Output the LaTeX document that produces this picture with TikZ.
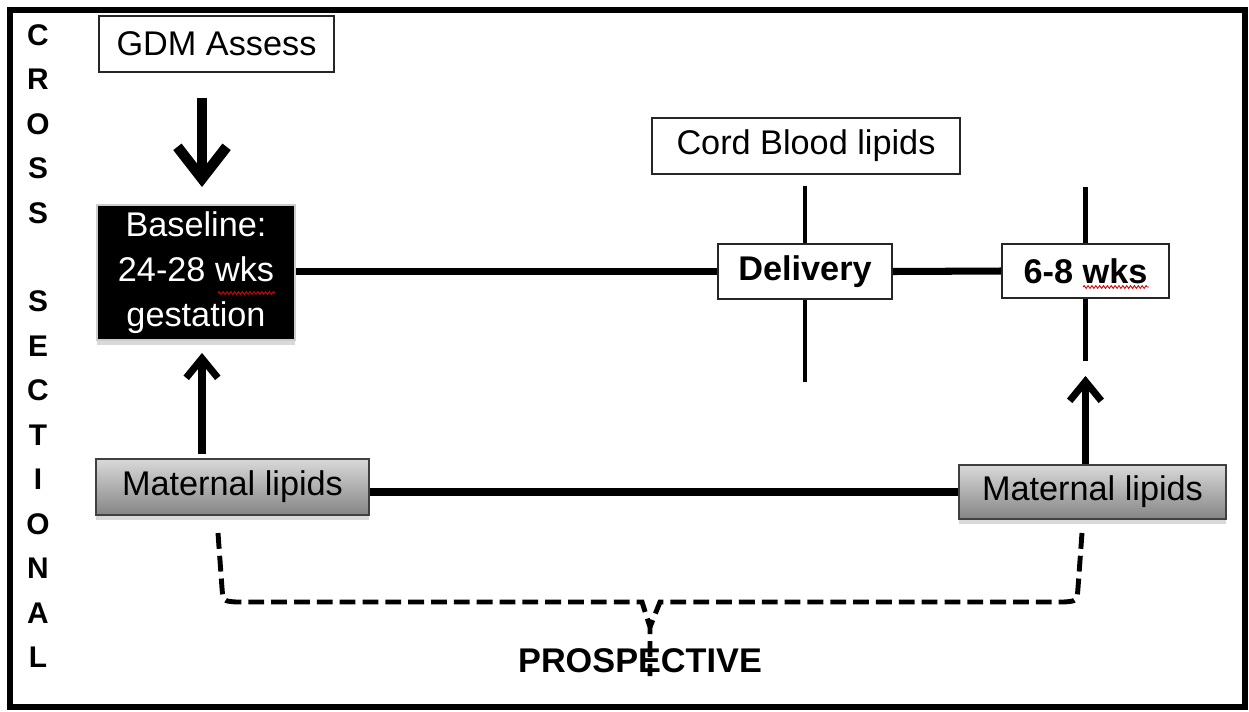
\documentclass[tikz,border=0pt]{standalone}
\usepackage{fontspec}
\setmainfont{Liberation Sans}
\usetikzlibrary{arrows.meta}
\usetikzlibrary{calc}
\usetikzlibrary{positioning}
\usetikzlibrary{shadows}
\usetikzlibrary{decorations.pathmorphing}

\tikzset{
  box/.style={draw=black!85, line width=1.1pt, fill=white, inner sep=0pt,
    font=\fontsize{19.5}{25.5}\selectfont},
  boldbox/.style={box, font=\bfseries\fontsize{19.5}{25.5}\selectfont},
  basebox/.style={box, fill=black, draw=black!20, text=white, align=center,
    drop shadow={shadow xshift=0pt, shadow yshift=-3pt, opacity=0.3}},
  lipidbox/.style={box, draw=black!75, top color=black!15, bottom color=black!48,
    drop shadow={shadow xshift=0pt, shadow yshift=-3pt, opacity=0.3}},
  timeline/.style={line width=4pt},
  tick/.style={line width=2.8pt},
  uparrow/.style={line width=4pt, -{Straight Barb[length=11pt,width=18pt]}},
  bigdown/.style={line width=6pt, -{Straight Barb[length=18pt,width=28pt]}},
  prospline/.style={line width=2.8pt, dash pattern=on 9pt off 4pt},
  spellwave/.style={red!85!black, line width=0.5pt,
    decorate, decoration={snake, segment length=2.2pt, amplitude=0.8pt}}
}

\begin{document}
\begin{tikzpicture}[x=0.02cm,y=-0.02cm]
  \useasboundingbox (0,0) rectangle (1249,711);
  \draw[line width=3.4pt] (10,10) rectangle (1245,707);

  % side label
  \node[font=\bfseries\fontsize{17}{25.3}\selectfont, align=center, inner sep=0pt] (cross) at (38,346)
    {C\\R\\O\\S\\S\\[25.3pt]S\\E\\C\\T\\I\\O\\N\\A\\L};

  % boxes
  \node[box, minimum width=4.70cm, minimum height=1.12cm] (gdm) at (216.5,44) {GDM Assess};
  \node[basebox, minimum width=3.96cm, minimum height=2.70cm] (base) at (196,272.5)
    {Baseline:\\24-28 wks\\gestation};
  \node[box, minimum width=6.16cm, minimum height=1.12cm] (cord) at (806,146) {Cord Blood lipids};
  \node[boldbox, minimum width=3.48cm, minimum height=1.10cm] (dlv) at (805,271.5) {Delivery};
  \node[boldbox, minimum width=3.34cm, minimum height=1.08cm] (wks) at (1085.5,271) {6-8 wks};
  \node[lipidbox, minimum width=5.46cm, minimum height=1.12cm] (mlL) at (232.5,487) {Maternal lipids};
  \node[lipidbox, minimum width=5.34cm, minimum height=1.08cm] (mlR) at (1092.5,492) {Maternal lipids};
  \node[font=\bfseries\fontsize{19.5}{24}\selectfont] (prosp) at (640,661) {PROSPECTIVE};

  % spell-check marks
  \draw[spellwave] (218,293) -- (275,293);
  \draw[spellwave] (1083,287) -- (1149,287);

  % free ends
  \coordinate (armX) at (202,0);
  \coordinate (dlvEnd) at (805,382);
  \coordinate (wksTop) at (1085.5,187);
  \coordinate (wksEnd) at (1085.5,361);
  \coordinate (prL) at (218,533);
  \coordinate (prR) at (1082,533);
  \coordinate (prMid) at (650,627);
  \coordinate (prEnd) at (650,676);

  % time lines
  \draw[timeline] (base.east |- dlv.west) -- (dlv.west);
  \draw[timeline] (dlv.east) -- (wks.west);
  \draw[line width=4pt] (mlL.east |- mlR.west) -- (mlR.west);

  \draw[tick, shorten <=0.22cm] (cord.south -| dlv.north) -- (dlv.north);
  \draw[tick] (dlv.south) -- (dlvEnd);
  \draw[tick] (wksTop) -- (wks.north);
  \draw[tick] (wks.south) -- (wksEnd);

  % arrows
  \draw[bigdown, shorten <=0.5cm, shorten >=0.34cm] (gdm.south -| armX) -- (base.north -| armX);
  \draw[uparrow, shorten <=0.08cm, shorten >=0.24cm] (mlL.north -| armX) -- (base.south -| armX);
  \draw[uparrow, shorten >=1.54cm] (mlR.north -| wks.south) -- (wks.south);

  % prospective bracket
  \draw[prospline] (prL) -- (222,588) .. controls (223,601) .. (236,602) -- (642,602) -- (prMid) -- (prEnd);
  \draw[prospline] (prR) -- (1078,588) .. controls (1077,601) .. (1064,602) -- (660,602) -- (prMid);
\end{tikzpicture}
\end{document}
